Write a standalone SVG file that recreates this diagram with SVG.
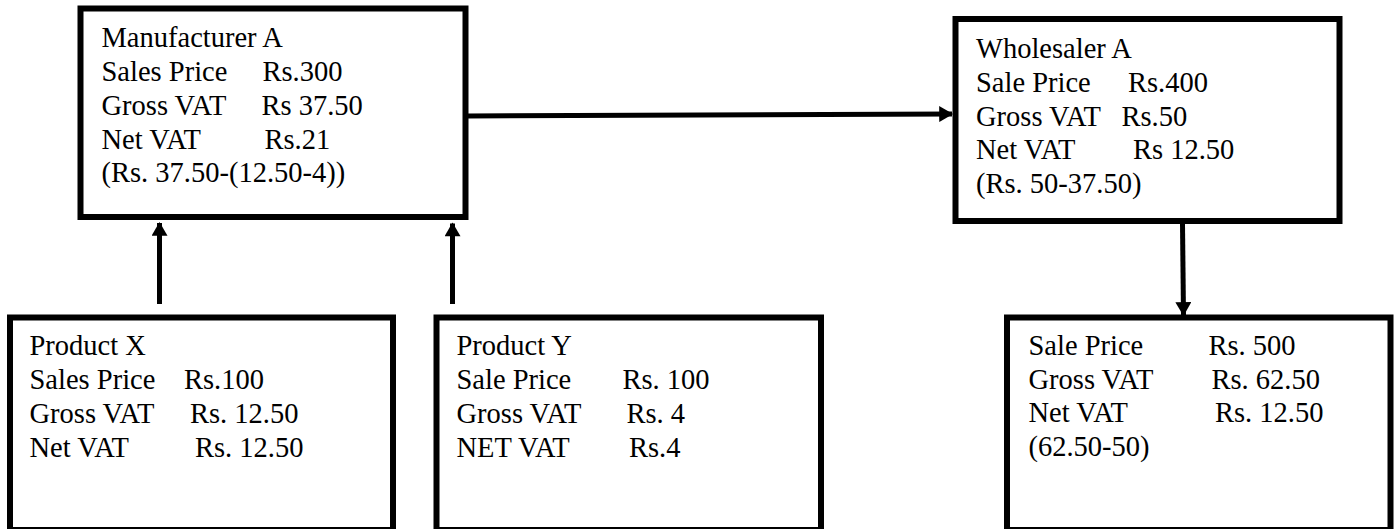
<svg xmlns="http://www.w3.org/2000/svg" width="1396" height="529" viewBox="0 0 1396 529">
<style>
.box{fill:#fff;stroke:#000;stroke-width:6}
.t{font-size:28.5px;fill:#000}
.c{stroke:#000;stroke-width:5;fill:none}
</style>
<defs>
<marker id="ah" markerUnits="userSpaceOnUse" markerWidth="16" markerHeight="16" viewBox="0 0 13 15" refX="12" refY="7.5" orient="auto">
<path d="M0,0 L13,7.5 L0,15 Z" fill="#000"/>
</marker>
</defs>
<rect width="1396" height="529" fill="#fff"/>
<g font-family="'Liberation Serif', 'Times New Roman', Times, 'DejaVu Serif', serif">
<g id="manufacturer">
<rect class="box" x="80.5" y="8.5" width="385" height="208.5"/>
<text class="t"><tspan x="101.5" y="47">Manufacturer A</tspan><tspan x="101.5" y="81">Sales Price</tspan><tspan x="262.5" y="81">Rs.300</tspan><tspan x="101.5" y="115">Gross VAT</tspan><tspan x="261.5" y="115">Rs 37.50</tspan><tspan x="101.5" y="148.5">Net VAT</tspan><tspan x="264.5" y="148.5">Rs.21</tspan><tspan x="101.5" y="182">(Rs. 37.50-(12.50-4))</tspan></text>
</g>
<g id="wholesaler">
<rect class="box" x="955.5" y="19" width="384" height="202"/>
<text class="t"><tspan x="976" y="57.5">Wholesaler A</tspan><tspan x="976" y="91.5">Sale Price</tspan><tspan x="1128" y="91.5">Rs.400</tspan><tspan x="976" y="125.5">Gross VAT</tspan><tspan x="1121.5" y="125.5">Rs.50</tspan><tspan x="976" y="159">Net VAT</tspan><tspan x="1133" y="159">Rs 12.50</tspan><tspan x="976" y="193">(Rs. 50-37.50)</tspan></text>
</g>
<g id="productX">
<rect class="box" x="10" y="317.5" width="383" height="212.5"/>
<text class="t"><tspan x="29.5" y="355">Product X</tspan><tspan x="29.5" y="389">Sales Price</tspan><tspan x="184" y="389">Rs.100</tspan><tspan x="29.5" y="423">Gross VAT</tspan><tspan x="190" y="423">Rs. 12.50</tspan><tspan x="29.5" y="456.5">Net VAT</tspan><tspan x="195" y="456.5">Rs. 12.50</tspan></text>
</g>
<g id="productY">
<rect class="box" x="436.5" y="317.5" width="384.5" height="212.5"/>
<text class="t"><tspan x="456.5" y="355">Product Y</tspan><tspan x="456.5" y="389">Sale Price</tspan><tspan x="622.5" y="389">Rs. 100</tspan><tspan x="456.5" y="423">Gross VAT</tspan><tspan x="626.5" y="423">Rs. 4</tspan><tspan x="456.5" y="456.5">NET VAT</tspan><tspan x="629" y="456.5">Rs.4</tspan></text>
</g>
<g id="retailer">
<rect class="box" x="1007" y="317.5" width="383.5" height="212.5"/>
<text class="t"><tspan x="1028.5" y="355">Sale Price</tspan><tspan x="1208.5" y="355">Rs. 500</tspan><tspan x="1028.5" y="388.5">Gross VAT</tspan><tspan x="1211.5" y="388.5">Rs. 62.50</tspan><tspan x="1028.5" y="422">Net VAT</tspan><tspan x="1215" y="422">Rs. 12.50</tspan><tspan x="1028.5" y="455.5">(62.50-50)</tspan></text>
</g>
</g>
<g id="connectors">
<line class="c" x1="468" y1="116" x2="952" y2="114" marker-end="url(#ah)"/>
<line class="c" x1="159.5" y1="304" x2="159.5" y2="223" marker-end="url(#ah)"/>
<line class="c" x1="452.5" y1="304" x2="452.5" y2="223.5" marker-end="url(#ah)"/>
<line class="c" x1="1182.5" y1="224" x2="1183.5" y2="315" marker-end="url(#ah)"/>
</g>
</svg>
